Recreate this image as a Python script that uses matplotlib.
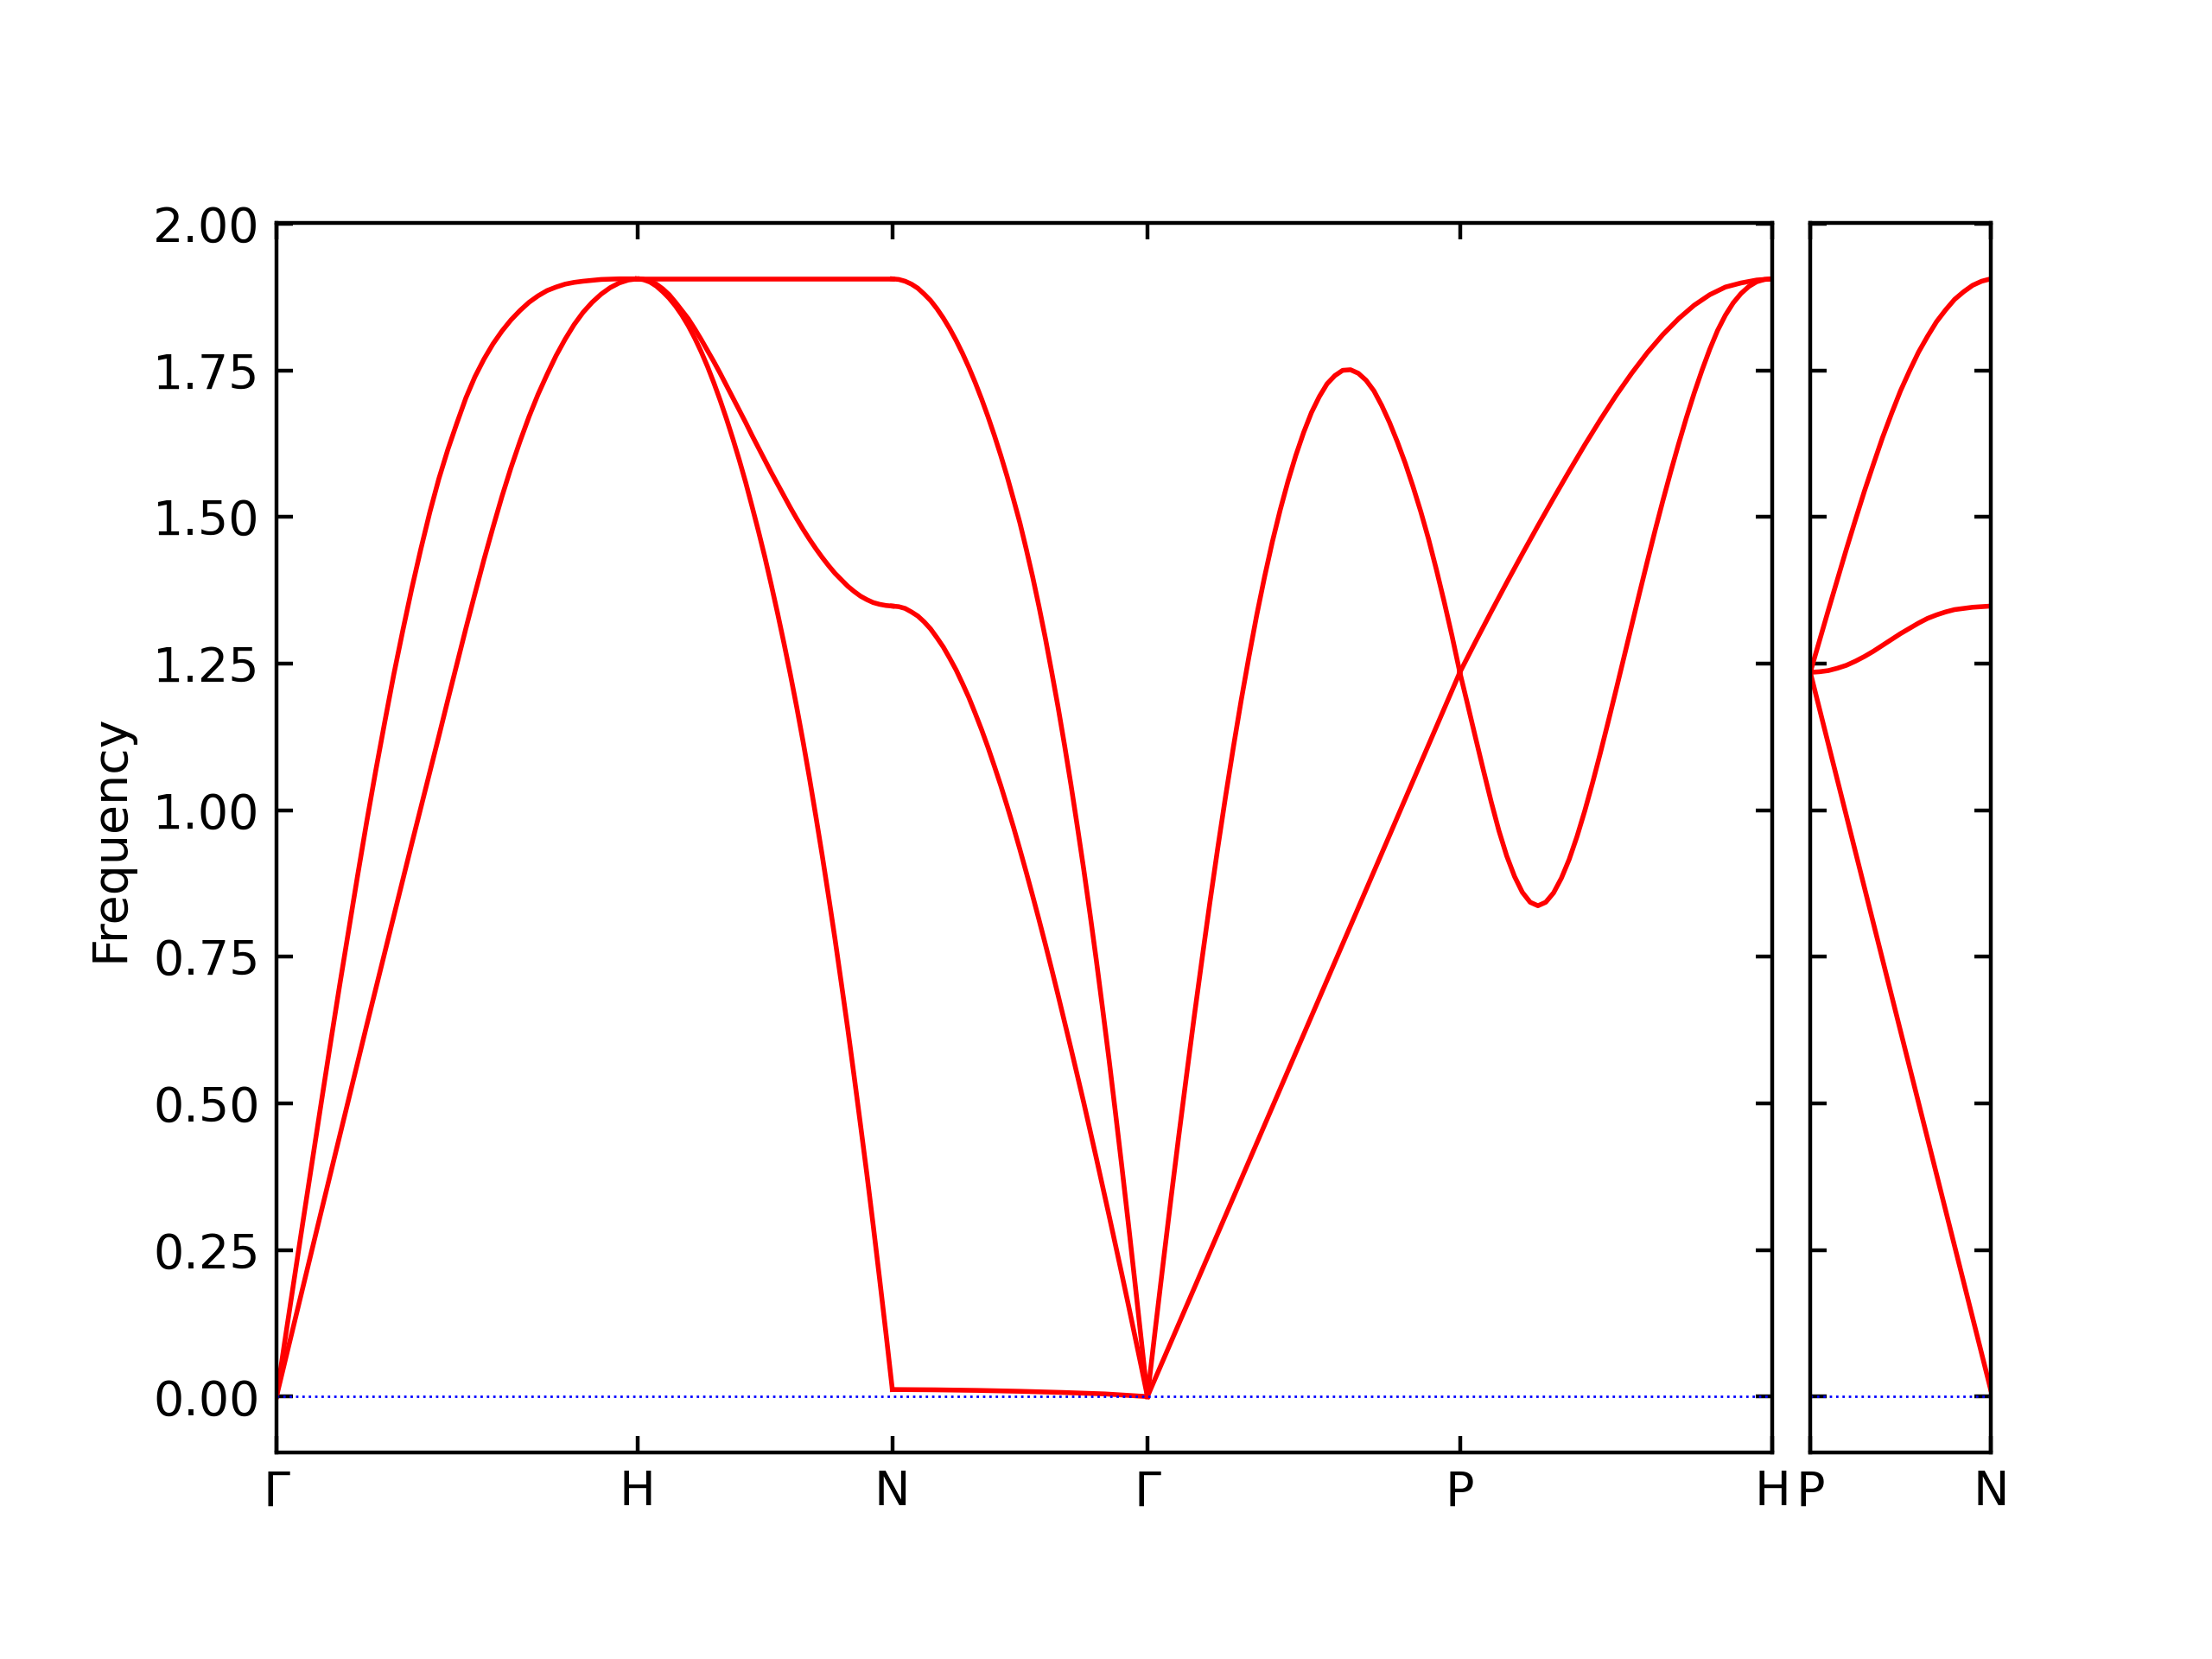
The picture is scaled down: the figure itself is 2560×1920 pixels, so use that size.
import numpy as np
import matplotlib
matplotlib.use("Agg")
from matplotlib import pyplot as plt
from matplotlib import ticker

# q-path: segment lengths (2pi/a) and high-symmetry labels
path1_lengths = [1.0, 0.7071, 0.7071, 0.8660, 0.8660]
path1_labels = ["Γ", "H", "N", "Γ", "P", "H"]
path2_lengths = [0.5]
path2_labels = ["P", "N"]

# frequencies read along each segment (evenly spaced q-points)
gamma_h = [
    [0, 0.1025, 0.204, 0.305, 0.405, 0.505, 0.604, 0.701, 0.795, 0.889,
     0.98, 1.067, 1.15, 1.231, 1.306, 1.378, 1.445, 1.508, 1.565, 1.615,
     1.66, 1.703, 1.739, 1.769, 1.795, 1.817, 1.836, 1.852, 1.866, 1.877,
     1.886, 1.892, 1.897, 1.900, 1.902, 1.9035, 1.905, 1.9055, 1.906, 1.906,
     1.906],
    [0, 0.064, 0.1275, 0.191, 0.2545, 0.318, 0.381, 0.444, 0.507, 0.570,
     0.633, 0.695, 0.757, 0.819, 0.881, 0.943, 1.004, 1.065, 1.126, 1.188,
     1.249, 1.310, 1.369, 1.427, 1.482, 1.535, 1.584, 1.629, 1.671, 1.709,
     1.743, 1.775, 1.803, 1.828, 1.849, 1.866, 1.880, 1.891, 1.899, 1.904,
     1.906],
]
h_n = [
    [1.906, 1.906],
    [1.906, 1.905, 1.902, 1.897, 1.889, 1.879, 1.866, 1.852, 1.838, 1.821,
     1.803, 1.784, 1.765, 1.745, 1.724, 1.703, 1.682, 1.661, 1.639, 1.618,
     1.597, 1.576, 1.556, 1.536, 1.516, 1.497, 1.479, 1.462, 1.446, 1.431,
     1.417, 1.404, 1.393, 1.382, 1.373, 1.365, 1.359, 1.354, 1.351, 1.349,
     1.348],
    [1.906, 1.9046, 1.9005, 1.8936, 1.884, 1.873, 1.8597, 1.844, 1.826,
     1.8053, 1.7823, 1.757, 1.729, 1.699, 1.667, 1.633, 1.597, 1.559, 1.518,
     1.476, 1.432, 1.385, 1.336, 1.285, 1.232, 1.176, 1.117, 1.055, 0.990,
     0.923, 0.853, 0.781, 0.705, 0.628, 0.547, 0.464, 0.380, 0.292, 0.201,
     0.108, 0.012],
]
n_gamma = [
    [1.906, 1.905, 1.902, 1.897, 1.890, 1.880, 1.869, 1.855, 1.839, 1.821,
     1.801, 1.779, 1.755, 1.729, 1.701, 1.671, 1.639, 1.605, 1.569, 1.530,
     1.490, 1.445, 1.398, 1.347, 1.293, 1.235, 1.175, 1.111, 1.044, 0.973,
     0.900, 0.823, 0.743, 0.659, 0.573, 0.483, 0.391, 0.296, 0.199, 0.100,
     0.0],
    [1.348, 1.347, 1.344, 1.338, 1.331, 1.321, 1.309, 1.294, 1.278, 1.259,
     1.239, 1.216, 1.192, 1.165, 1.137, 1.107, 1.075, 1.042, 1.007, 0.971,
     0.933, 0.894, 0.854, 0.813, 0.771, 0.728, 0.684, 0.639, 0.594, 0.548,
     0.502, 0.454, 0.406, 0.357, 0.308, 0.258, 0.208, 0.157, 0.105, 0.053,
     0.0],
    [0.012, 0.0115, 0.0105, 0.009, 0.007, 0.0045, 0.0],
]
gamma_p = [
    [0, 0.114, 0.226, 0.336, 0.443, 0.547, 0.649, 0.747, 0.843, 0.935,
     1.023, 1.107, 1.187, 1.262, 1.333, 1.398, 1.458, 1.512, 1.561, 1.605,
     1.644, 1.678, 1.705, 1.727, 1.741, 1.750, 1.751, 1.745, 1.733, 1.715,
     1.690, 1.661, 1.628, 1.592, 1.552, 1.509, 1.462, 1.410, 1.355, 1.297,
     1.235],
    [0, 1.235],
]
p_h = [
    [1.235, 1.180, 1.124, 1.069, 1.015, 0.965, 0.922, 0.887, 0.860, 0.843,
     0.837, 0.843, 0.859, 0.884, 0.916, 0.955, 0.999, 1.047, 1.098, 1.151,
     1.205, 1.260, 1.315, 1.370, 1.424, 1.477, 1.528, 1.577, 1.624, 1.669,
     1.711, 1.750, 1.786, 1.818, 1.844, 1.865, 1.881, 1.893, 1.901, 1.905,
     1.906],
    [1.235, 1.287, 1.338, 1.388, 1.437, 1.485, 1.532, 1.578, 1.623, 1.666,
     1.707, 1.745, 1.780, 1.811, 1.838, 1.861, 1.879, 1.892, 1.899, 1.904,
     1.906],
]
p_n = [
    [1.235, 1.288, 1.341, 1.393, 1.445, 1.495, 1.544, 1.590, 1.635, 1.676,
     1.715, 1.749, 1.781, 1.808, 1.833, 1.853, 1.871, 1.884, 1.895, 1.902,
     1.906],
    [1.235, 1.236, 1.238, 1.242, 1.247, 1.254, 1.262, 1.271, 1.281, 1.291,
     1.301, 1.310, 1.319, 1.327, 1.333, 1.338, 1.342, 1.344, 1.346, 1.347,
     1.348],
    [1.235, 0.012],
]

path1_bands = [gamma_h, h_n, n_gamma, gamma_p, p_h]
path2_bands = [p_n]

fmax = 1.906


def plot_path(ax, lengths, segments, labels):
    start = 0.0
    ticks = [0.0]
    for length, bands in zip(lengths, segments):
        for freqs in bands:
            q = start + np.linspace(0, length, len(freqs))
            ax.plot(q, freqs, color="red", linewidth=1.0)
        start += length
        ticks.append(start)
    ax.axhline(0, linestyle=":", linewidth=0.5, color="b")
    ax.set_xlim(0, start)
    ax.set_ylim(-0.05 * fmax, 1.05 * fmax)
    ax.xaxis.set_major_locator(ticker.FixedLocator(ticks))
    ax.xaxis.set_major_formatter(ticker.FixedFormatter(labels))
    ax.yaxis.set_major_locator(ticker.MultipleLocator(0.25))
    ax.yaxis.set_major_formatter(ticker.FormatStrFormatter("%.2f"))
    ax.tick_params(axis="both", which="both", direction="in",
                   top=True, right=True)


fig = plt.figure(figsize=(6.4, 4.8), dpi=400)
w1 = 0.6762
w2 = w1 * sum(path2_lengths) / sum(path1_lengths)
ax1 = fig.add_axes([0.125, 0.1245, w1, 0.7411])
ax2 = fig.add_axes([0.8184, 0.1245, w2, 0.7411])

plot_path(ax1, path1_lengths, path1_bands, path1_labels)
plot_path(ax2, path2_lengths, path2_bands, path2_labels)
ax2.tick_params(labelleft=False)
ax1.set_ylabel("Frequency")

fig.savefig("out.png", dpi=400)
